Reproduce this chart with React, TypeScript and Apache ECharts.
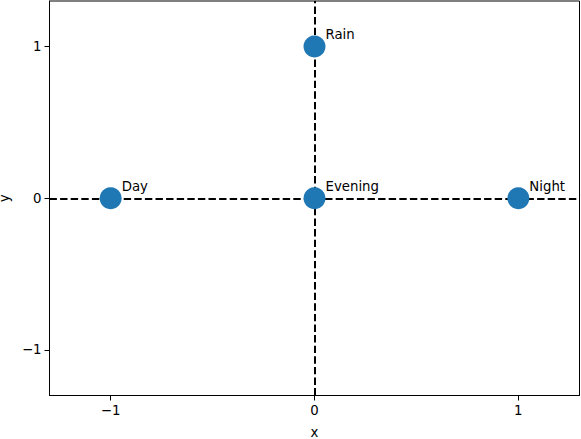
import React, { useEffect, useRef } from "react";
import * as echarts from "echarts";

const names = ["Day", "Evening", "Night", "Rain"];
const xValues = [-1, 0, 1, 0];
const yValues = [0, 0, 0, 1];
const xTicks = [-1, 0, 1];
const yTicks = [-1, 0, 1];
const refLinesX = [0];
const refLinesY = [0];

const FONT = "DejaVu Sans";
const fmt = (v: number) => String(v).replace("-", "\u2212");

export default function App() {
  const ref = useRef<HTMLDivElement>(null);
  useEffect(() => {
    document.body.style.margin = "0";
    const chart = echarts.init(ref.current!, null, { renderer: "svg" });
    const axisCommon = {
      min: -1.3,
      max: 1.3,
      splitLine: { show: false },
      axisLine: { show: true, onZero: false, lineStyle: { color: "#000", width: 1 } },
      axisTick: { show: true, length: 5, lineStyle: { color: "#000", width: 1 } },
      nameLocation: "middle" as const,
      nameTextStyle: { fontFamily: FONT, fontSize: 13.3, color: "#000" },
    };
    chart.setOption({
      animation: false,
      grid: {
        left: 49.5,
        right: 1.5,
        top: 1,
        bottom: 43.5,
        containLabel: false,
        outerBoundsMode: "none",
        show: true,
        borderColor: "#000",
        borderWidth: 1,
        backgroundColor: "transparent",
      },
      xAxis: {
        ...axisCommon,
        type: "value",
        name: "x",
        nameGap: 30,
        axisTick: { ...axisCommon.axisTick, customValues: xTicks },
        axisLabel: {
          customValues: xTicks,
          formatter: fmt,
          fontFamily: FONT,
          fontSize: 13.3,
          color: "#000",
          margin: 8,
        },
      },
      yAxis: {
        ...axisCommon,
        type: "value",
        name: "y",
        nameGap: 32,
        axisTick: { ...axisCommon.axisTick, customValues: yTicks },
        axisLabel: {
          customValues: yTicks,
          formatter: fmt,
          fontFamily: FONT,
          fontSize: 13.3,
          color: "#000",
          margin: 8,
        },
      },
      series: [
        {
          type: "scatter",
          data: [],
          z: 1,
          markLine: {
            z: 1,
            silent: true,
            symbol: "none",
            label: { show: false },
            lineStyle: { color: "#000", width: 2, type: [7.4, 3.2] },
            data: [
              ...refLinesY.map((v) => ({ yAxis: v })),
              ...refLinesX.map((v) => ({ xAxis: v })),
            ],
          },
        },
        {
          type: "scatter",
          z: 3,
          symbolSize: 22,
          itemStyle: { color: "#1f77b4", opacity: 1 },
          data: names.map((n, i) => ({ name: n, value: [xValues[i], yValues[i]] })),
          label: {
            show: true,
            position: "right",
            distance: 0,
            offset: [0, -12],
            formatter: (p: any) => p.name,
            fontFamily: FONT,
            fontSize: 13.3,
            color: "#000",
          },
        },
      ],
    });
    return () => chart.dispose();
  }, []);
  return <div ref={ref} style={{ width: 581, height: 439 }} />;
}
